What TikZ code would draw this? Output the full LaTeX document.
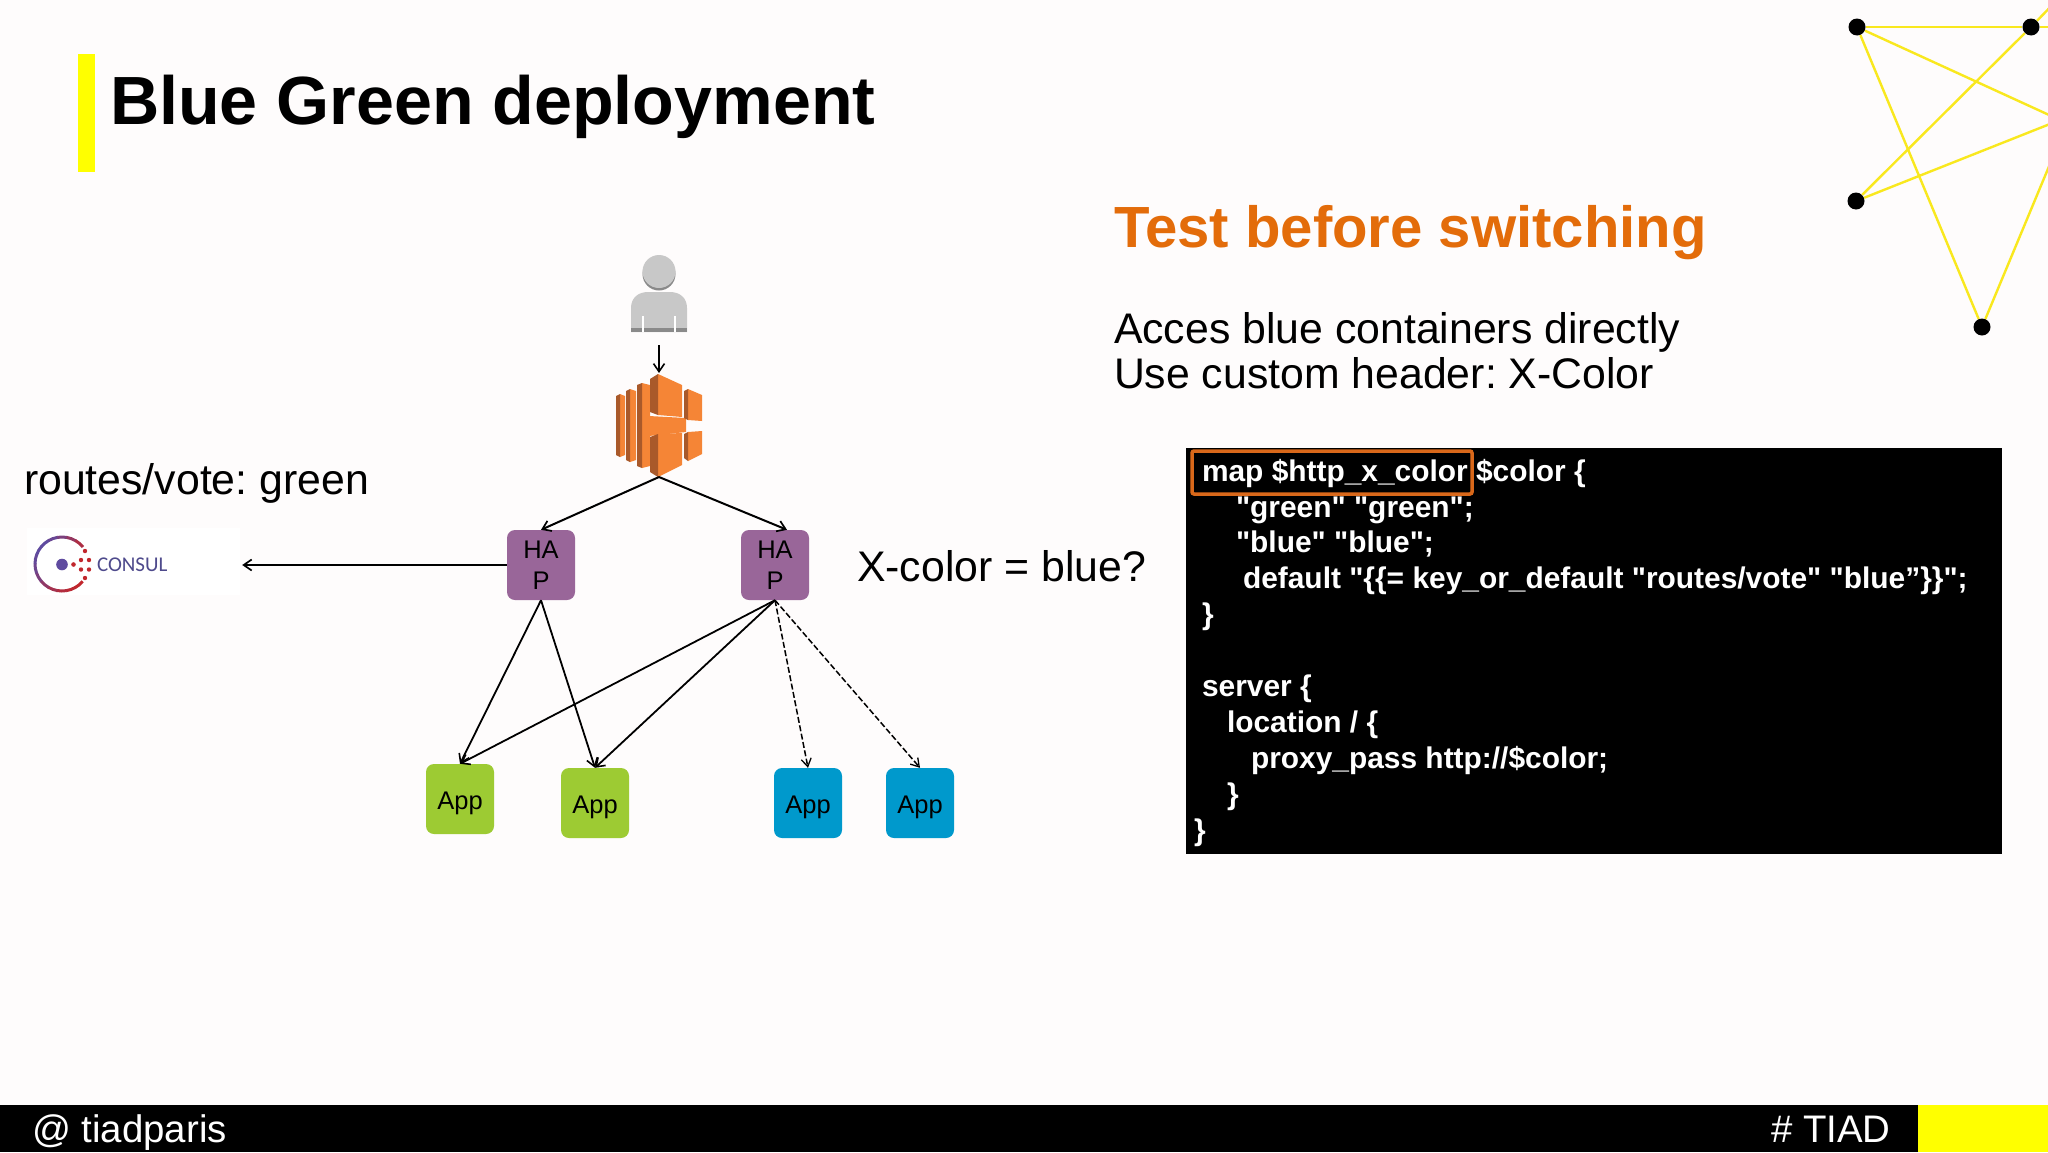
\documentclass[tikz,border=0pt]{standalone}
\usepackage{fontspec}
\setmainfont{Liberation Sans}
\newfontfamily\codefont{Liberation Sans}
\newfontfamily\consulfont{Carlito}
\usetikzlibrary{arrows.meta}
\AtBeginDocument{\frenchspacing}
\definecolor{pagebg}{HTML}{FEFCFC}
\definecolor{slideyellow}{HTML}{FFFF00}
\definecolor{netyellow}{HTML}{F9E81E}
\definecolor{haproxy}{HTML}{996699}
\definecolor{appgreen}{HTML}{9DCB33}
\definecolor{appblue}{HTML}{0099CC}
\definecolor{titleorange}{HTML}{E36C0A}
\definecolor{boxorange}{HTML}{D9681A}
\definecolor{elbfront}{HTML}{F58536}
\definecolor{elbdark}{HTML}{A9592A}
\definecolor{persongray}{HTML}{C8C8C8}
\definecolor{persondark}{HTML}{8A8A8A}
\definecolor{consulpurple}{HTML}{5F4B9F}
\definecolor{consulred}{HTML}{C1272D}
\definecolor{consultext}{HTML}{4E4A8C}
\tikzset{
  x=1pt,y=-1pt,
  txt/.style={inner sep=0pt,outer sep=0pt,anchor=base west},
  slidetext/.style={txt,font=\fontsize{42.8}{46}\selectfont},
  foottext/.style={txt,text=white,font=\fontsize{38.4}{40}\selectfont},
  hapbox/.style={fill=haproxy,rounded corners=8pt,minimum width=68pt,minimum height=70pt,inner sep=0pt,align=center,font=\fontsize{25.5}{31}\selectfont},
  appbox/.style={rounded corners=8pt,minimum width=68pt,minimum height=70pt,inner sep=0pt,text height=20pt,text depth=0pt,font=\fontsize{25.5}{28}\selectfont},
  arrowline/.style={draw=black,line width=2pt,-{Straight Barb[length=8pt,width=11pt,line width=1.7pt]}},
  thinarrow/.style={draw=black,line width=1.8pt,-{Straight Barb[length=8pt,width=11pt,line width=1.6pt]}},
  dasharrow/.style={draw=black,line width=1.5pt,dash pattern=on 6pt off 2.5pt,-{Straight Barb[length=8pt,width=10pt,line width=1.3pt]}},
  netline/.style={draw=netyellow,line width=2.4pt},
  netdot/.style={circle,fill=black,minimum size=17pt,inner sep=0pt},
  codeline/.style={txt,text=white,font=\codefont\fontsize{29.9}{35}\selectfont\bfseries},
}
\begin{document}
\begin{tikzpicture}
\useasboundingbox (0,0) rectangle (2048,1152);
\fill[pagebg] (0,0) rectangle (2048,1152);
% footer
\fill[black] (0,1105) rectangle (2048,1152);
\fill[slideyellow] (1918,1105) rectangle (2048,1152);
\node[foottext] (foot1) at (32,1142) {@ tiadparis};
\node[foottext] (foot2) at (1771,1142) {\# TIAD};
% title
\fill[slideyellow] (78,54) rectangle (95,172);
\node[txt,font=\fontsize{68.2}{70}\selectfont\bfseries] (title) at (110,124) {Blue Green deployment};
\node[txt,text=titleorange,font=\fontsize{58.1}{60}\selectfont\bfseries] (sub) at (1114,247) {Test before switching};
\node[slidetext] (l1) at (1114,343) {Acces blue containers directly};
\node[slidetext] (l2) at (1114,388) {Use custom header: X-Color};
\node[slidetext] (routes) at (24,494) {routes/vote: green};
\node[slidetext] (xcolor) at (857,581) {X-color = blue?};
% network decoration
\node[netdot] (na) at (1857,27) {};
\node[netdot] (nb) at (2031,27) {};
\node[netdot] (nc) at (1856,201) {};
\node[netdot] (nd) at (1982,327) {};
\coordinate (oe1) at (2060,27);
\coordinate (oe2) at (2060,120);
\coordinate (oe3) at (2060,-3);
\coordinate (oe4) at (2060,140);
\draw[netline] (na) -- (nb);
\draw[netline] (nb) -- (oe1);
\draw[netline] (na) -- (oe2);
\draw[netline] (na) -- (nd);
\draw[netline] (nc) -- (nb);
\draw[netline] (nb) -- (oe3);
\draw[netline] (nc) -- (oe2);
\draw[netline] (nd) -- (oe4);
% person
\fill[persondark] (659,274) circle (16.5pt);
\fill[persongray] (659,271.5) circle (16.5pt);
\fill[persongray] (631,332) -- (631,308) .. controls (631,298) and (638,292) .. (648,292) -- (670,292) .. controls (680,292) and (687,298) .. (687,308) -- (687,332) -- cycle;
\fill[persondark] (631,328) rectangle (687,332);
\fill[white] (642,316) rectangle (643.5,332);
\fill[white] (674,316) rectangle (675.5,332);
\coordinate (person) at (659,345);
% ELB icon: three bars, centre block, right blocks
\foreach \xa/\xb/\xc/\yt/\yb in {616/620/625/394/457,626/630/636/389/462,637/642/650/383/468}{
  \fill[elbfront] (\xb,\yt) -- (\xc,\yt+2) -- (\xc,\yb-2) -- (\xb,\yb) -- cycle;
  \fill[elbdark] (\xa,\yt+2) -- (\xb,\yt) -- (\xb,\yb) -- (\xa,\yb-2) -- cycle;
}
\fill[elbfront] (649,416) -- (686,418) -- (686,432) -- (649,436) -- cycle;
\fill[elbfront] (658,374) -- (682,385) -- (682,417) -- (658,415) -- cycle;
\fill[elbdark] (650,379) -- (658,374) -- (658,415) -- (650,412) -- cycle;
\fill[elbfront] (658,434) -- (682,433) -- (682,465) -- (658,477) -- cycle;
\fill[elbdark] (650,437) -- (658,434) -- (658,477) -- (650,472) -- cycle;
\fill[elbfront] (688,389) -- (702,395) -- (702,421) -- (688,420) -- cycle;
\fill[elbdark] (684,391) -- (688,389) -- (688,420) -- (684,418) -- cycle;
\fill[elbfront] (688,432) -- (702,431) -- (702,454) -- (688,461) -- cycle;
\fill[elbdark] (684,434) -- (688,432) -- (688,461) -- (684,458) -- cycle;
\coordinate (elbtop) at (659,373);
\coordinate (elbbot) at (659,477);
\draw[thinarrow] (person) -- (elbtop);
% consul logo
\fill[white] (27,528) rectangle (240,595);
\foreach \a/\m in {40/100,60/95,80/85,100/70,120/50,140/30,160/15,180/5,200/0,220/0,240/10,260/30,280/55,300/80}{
  \pgfmathsetmacro{\b}{\a+21}
  \colorlet{seg}{consulred!\m!consulpurple}
  \draw[seg,line width=3pt] ([shift={(62,564)}]-\a:27pt) arc[start angle=-\a,end angle=-\b,radius=27pt];
}
\fill[consulpurple] (62,564.5) circle (5.8pt);
\fill[consulred] (73.5,564.5) circle (2.3pt);
\foreach \p in {(85,551),(81,560),(89,560),(81,569.5),(89,569.5),(85,578)}{\fill[consulred] \p circle (2.2pt);}
\node[txt,text=consultext,font=\fontsize{21}{24}\consulfont\selectfont] (consultxt) at (97,571) {CONSUL};
\node[minimum width=2pt,minimum height=2pt,inner sep=0pt] (consul) at (241,565) {};
% boxes
\node[hapbox] (hapl) at (541,565) {HA\\P};
\node[hapbox] (hapr) at (775,565) {HA\\P};
\node[appbox,fill=appgreen] (app1) at (460,799) {App};
\node[appbox,fill=appgreen] (app2) at (595,803) {App};
\node[appbox,fill=appblue] (app3) at (808,803) {App};
\node[appbox,fill=appblue] (app4) at (920,803) {App};
% connectors
\draw[arrowline] (elbbot) -- (hapl.north);
\draw[arrowline] (elbbot) -- ([xshift=12pt]hapr.north);
\draw[arrowline] (hapl.west) -- (consul);
\draw[thinarrow] (hapl.south) -- (app1.north);
\draw[thinarrow] (hapl.south) -- (app2.north);
\draw[thinarrow] (hapr.south) -- (app1.north);
\draw[thinarrow] (hapr.south) -- (app2.north);
\draw[dasharrow] (hapr.south) -- (app3.north);
\draw[dasharrow] (hapr.south) -- (app4.north);
% code panel
\fill[black] (1186,448) rectangle (2002,854);
\node[codeline] (c1) at (1202,481) {map \$http\_x\_color};
\node[codeline] (c1b) at (1476,481) {\$color \{};
\node[codeline] (c2) at (1236,517) {"green" "green";};
\node[codeline] (c3) at (1236,552) {"blue" "blue";};
\node[codeline] (c4) at (1243,588) {default "\{\{= key\_or\_default "routes/vote" "blue”\}\}";};
\node[codeline] (c5) at (1202,624) {\}};
\node[codeline] (c6) at (1202,696) {server \{};
\node[codeline] (c7) at (1227,732) {location / \{};
\node[codeline] (c8) at (1251,768) {proxy\_pass http://\$color;};
\node[codeline] (c9) at (1227,804) {\}};
\node[codeline] (c10) at (1194,840) {\}};
\node[draw=boxorange,line width=3.5pt,rounded corners=2pt,minimum width=280pt,minimum height=43pt,inner sep=0pt] (hilite) at (1332,472.5) {};
\end{tikzpicture}
\end{document}
